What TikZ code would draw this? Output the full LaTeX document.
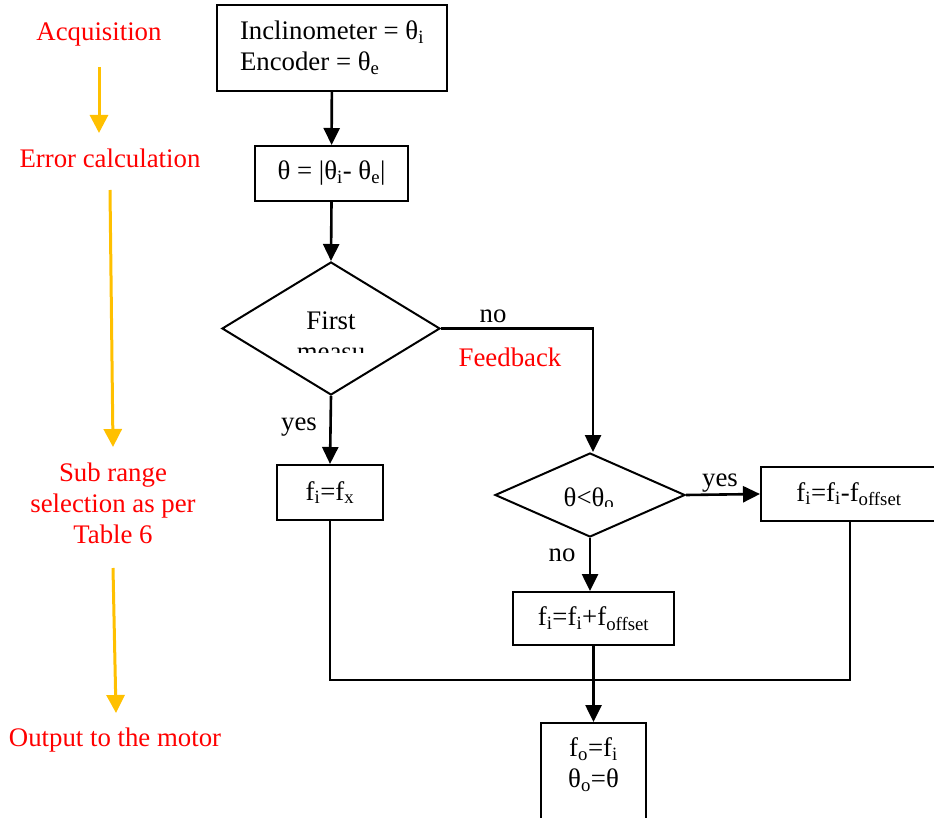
\documentclass[tikz,border=0pt]{standalone}
\usepackage{fontspec}
\setmainfont{Liberation Serif}
\usetikzlibrary{shapes.geometric,arrows.meta}

\definecolor{notered}{RGB}{255,0,0}
\definecolor{notegold}{RGB}{255,192,0}

\newcommand{\ssub}[1]{\textsubscript{#1}}

\begin{document}
\begin{tikzpicture}[x=1pt, y=-1pt, font=\fontsize{26.8}{31}\selectfont]
    \useasboundingbox (0,0) rectangle (934,818);

    % process boxes
    \begin{scope}[every node/.style={rectangle, draw, line width=2pt, align=left, inner sep=0pt}]
        \node[minimum width=230pt, minimum height=86pt] (acq) at (332,48) {Inclinometer = θ\ssub{i}\\Encoder = θ\ssub{e}};
        \node[minimum width=153pt, minimum height=55pt] (err) at (331.5,173.5) {θ = |θ\ssub{i}- θ\ssub{e}|};
        \node[minimum width=106pt, minimum height=55pt] (fx) at (330,492.5) {f\ssub{i}=f\ssub{x}};
        \node[minimum width=176pt, minimum height=54pt] (dec) at (849,494) {f\ssub{i}=f\ssub{i}-f\ssub{offset}};
        \node[minimum width=161pt, minimum height=53pt] (inc) at (593.5,618.5) {f\ssub{i}=f\ssub{i}+f\ssub{offset}};
        \node[minimum width=105pt, minimum height=104pt] (out) at (593.5,775) {};
    \end{scope}

    % decisions
    \begin{scope}[every node/.style={diamond, draw, line width=2pt, inner sep=0pt}]
        \node[minimum width=218pt, minimum height=133pt] (first) at (331,328.5) {};
        \node[minimum width=190pt, minimum height=84pt] (cmp) at (590,495) {};
    \end{scope}

    % text inside the decisions, cut off at the text frame
    \begin{scope}
        \clip (280,300) rectangle (385,352);
        \node[anchor=base] (firsta) at (331,329) {First};
        \node[anchor=base] (firstb) at (331,360) {measu};
    \end{scope}
    \begin{scope}
        \clip (540,480) rectangle (640,506);
        \node[anchor=base] (cmpt) at (589,506) {θ<θ\ssub{o}};
    \end{scope}

    \node[align=center] (outt) at (593.5,765) {f\ssub{o}=f\ssub{i}\\θ\ssub{o}=θ};

    % branch labels
    \node[anchor=base] (no1) at (493,322) {no};
    \node[anchor=base] (yes1) at (299,430) {yes};
    \node[anchor=base] (yes2) at (720,486) {yes};
    \node[anchor=base] (no2) at (562,561) {no};
    \node[anchor=base, text=notered] (fb) at (510,366) {Feedback};

    % stage names
    \begin{scope}[every node/.style={text=notered, align=center}]
        \node (s1) at (99,34) {Acquisition};
        \node (s2) at (110,158) {Error calculation};
        \node (s3) at (113,503) {Sub range\\selection as per\\Table 6};
        \node (s4) at (115,740) {Output to the motor};
    \end{scope}

    \coordinate (a1) at (99,67);   \coordinate (b1) at (99,133);
    \coordinate (a2) at (110,190); \coordinate (b2) at (113,447);
    \coordinate (a3) at (113,568); \coordinate (b3) at (116,713);
    \begin{scope}[every edge/.style={draw, notegold, line width=3pt, -{Triangle[length=18pt, width=18pt]}}]
        \path (a1) edge (b1);
        \path (a2) edge (b2);
        \path (a3) edge (b3);
    \end{scope}

    % connectors
    \coordinate (turn) at (593,328.5);
    \coordinate (j1) at (330,680);
    \coordinate (j2) at (850,680);
    \begin{scope}[every edge/.style={draw, line width=2.6pt, -{Triangle[length=17pt, width=16pt]}}]
        \path (acq) edge (err);
        \path (err.south) edge (first.north);
        \path (first.south) edge (fx.north);
        \path (cmp.east) edge (dec.west);
        \path (cmp.south) edge (inc.north -| cmp.south);
        \path (inc.south) edge (out.north);
    \end{scope}
    \draw[line width=2.6pt, -{Triangle[length=17pt, width=16pt]}] (first.east) -- (turn) -- (cmp.north -| turn);
    \draw[line width=2pt] (fx.south) -- (j1) -- (j2) -- (j2 |- dec.south);
\end{tikzpicture}
\end{document}
